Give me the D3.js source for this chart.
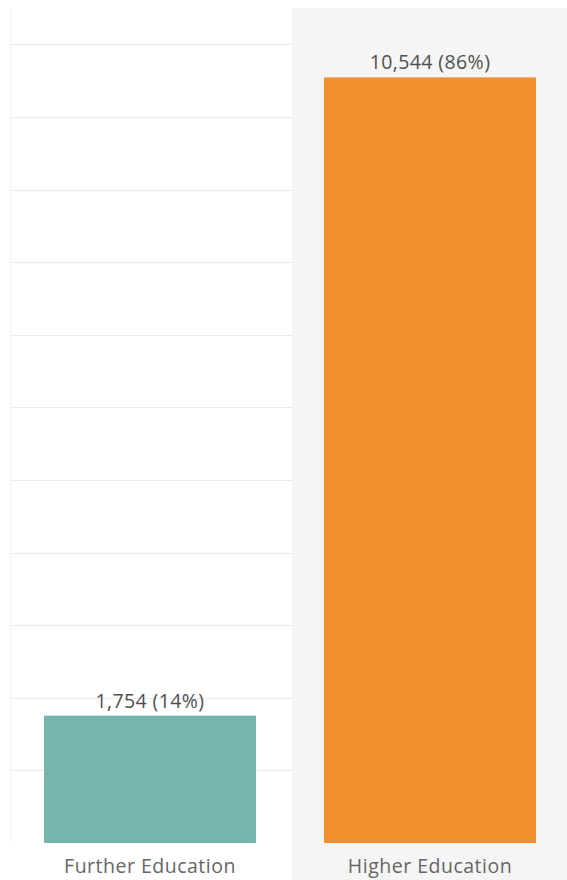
<!DOCTYPE html>
<html>
<head>
<meta charset="utf-8">
<script src="https://cdn.jsdelivr.net/npm/d3@7"></script>
<style>
  html, body { margin: 0; padding: 0; background: #fff; }
  svg { display: block; }
  text { font-family: "Open Sans", "Noto Sans", sans-serif; }
</style>
</head>
<body>
<svg id="chart" width="567" height="880"></svg>
<script>
const categories = ["Further Education", "Higher Education"];
const values = [1754, 10544];
const percents = ["14%", "86%"];
const colors = ["#76b5ae", "#f28e2b"];
const gridStep = 1000;

const W = 567, H = 880;
const svg = d3.select("#chart");

const x = d3.scaleBand()
  .domain(categories)
  .range([10, 570])
  .paddingInner(0.243)
  .paddingOuter(0.1215);

const y = d3.scaleLinear()
  .domain([0, 11500])
  .range([843, 8]);

const splitX = x(categories[1]) - x.step() * x.paddingInner() / 2 + 2;

// highlighted second column background
svg.append("rect")
  .attr("x", splitX)
  .attr("y", y.range()[1])
  .attr("width", W - splitX)
  .attr("height", H - y.range()[1])
  .attr("fill", "#f5f5f5");

// faint left panel border
svg.append("line")
  .attr("x1", 10.5).attr("x2", 10.5)
  .attr("y1", y.range()[1]).attr("y2", 843)
  .attr("stroke", "#f3f3f3");

// gridlines (left column only)
const gridTicks = d3.range(gridStep, y.domain()[1], gridStep);
svg.append("g").selectAll("line")
  .data(gridTicks)
  .join("line")
  .attr("x1", 10).attr("x2", splitX)
  .attr("y1", d => Math.round(y(d)) + 0.5)
  .attr("y2", d => Math.round(y(d)) + 0.5)
  .attr("stroke", "#ebebeb")
  .attr("stroke-width", 1);

const data = categories.map((c, i) => ({ c, v: values[i], p: percents[i], col: colors[i] }));

svg.append("g").selectAll("rect")
  .data(data)
  .join("rect")
  .attr("x", d => x(d.c))
  .attr("y", d => y(d.v))
  .attr("width", x.bandwidth())
  .attr("height", d => y(0) - y(d.v))
  .attr("fill", d => d.col);

svg.append("g").selectAll("text")
  .data(data)
  .join("text")
  .attr("x", d => x(d.c) + x.bandwidth() / 2)
  .attr("y", d => y(d.v) - 8)
  .attr("text-anchor", "middle")
  .attr("font-size", 19.5)
  .attr("letter-spacing", 0.4)
  .attr("fill", "#505050")
  .text(d => d3.format(",")(d.v) + " (" + d.p + ")");

// category axis labels
const xAxis = d3.axisBottom(x).tickSize(0).tickPadding(0);
const ax = svg.append("g").attr("transform", `translate(0, 843)`).call(xAxis);
ax.select(".domain").remove();
ax.selectAll("text")
  .attr("dy", null)
  .attr("y", 30)
  .attr("font-size", 19.5)
  .attr("letter-spacing", 0.5)
  .attr("font-family", "\"Open Sans\", \"Noto Sans\", sans-serif")
  .attr("fill", "#666");
</script>
</body>
</html>
